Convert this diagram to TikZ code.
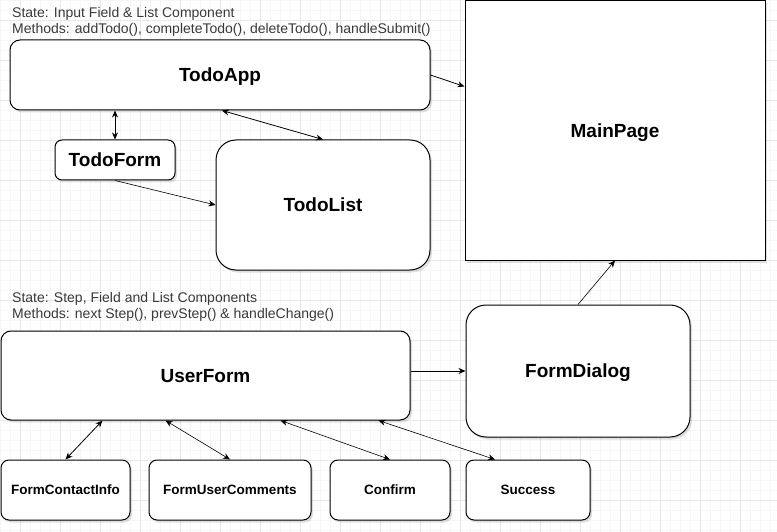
\documentclass[tikz,border=0pt]{standalone}
\usepackage{fontspec}
\setmainfont{Liberation Sans}
\usetikzlibrary{arrows.meta,shadows}
\definecolor{gridminor}{HTML}{F6F6F6}
\definecolor{gridmajor}{HTML}{E8E8E8}
\definecolor{notegray}{HTML}{3A3A3A}
\begin{document}
\begin{tikzpicture}[x=1pt,y=-1pt,
		box/.style={draw=black,line width=1pt,fill=white,rounded corners=#1,
			inner sep=0pt,font=\fontsize{19}{22}\selectfont\bfseries,
			text height=13.7pt,text depth=0pt,
			drop shadow={shadow xshift=2pt,shadow yshift=-2.5pt,opacity=0.25}},
		box/.default=10pt,
		smallbox/.style={box=8pt,font=\fontsize{13.5}{16}\selectfont\bfseries,
			text height=9.7pt},
		note/.style={anchor=north west,align=left,inner sep=0pt,text=notegray,
			font=\fontsize{14}{16}\selectfont},
		link/.style={line width=0.8pt,-{Stealth[length=7pt,width=6pt]}},
		biglink/.style={line width=0.8pt,{Stealth[length=7pt,width=6pt]}-{Stealth[length=7pt,width=6pt]}}]
	\useasboundingbox (0,0) rectangle (777,532);
	\fill[white] (0,0) rectangle (777,532);
	
	% Grid
	\foreach \x in {0,10,...,770} {
		\draw[gridminor,line width=0.6pt] (\x,0) -- (\x,532);
	}
	\foreach \y in {0,10,...,530} {
		\draw[gridminor,line width=0.6pt] (0,\y) -- (777,\y);
	}
	\foreach \x in {20,60,...,760} {
		\draw[gridmajor,line width=0.6pt] (\x,0) -- (\x,532);
	}
	\foreach \y in {20,60,...,520} {
		\draw[gridmajor,line width=0.6pt] (0,\y) -- (777,\y);
	}
	
	% Shapes
	\node[box,minimum width=300pt,minimum height=259pt,rounded corners=0pt] (mainpage) at (615,130.5) {MainPage};
	\node[box,minimum width=420pt,minimum height=70pt] (todoapp) at (220,75) {TodoApp};
	\node[box=7pt,minimum width=120pt,minimum height=40pt] (todoform) at (115,160) {TodoForm};
	\node[box=20pt,minimum width=214pt,minimum height=130pt] (todolist) at (323,205) {TodoList};
	
	\node[box,minimum width=409pt,minimum height=89pt] (userform) at (205.5,375.5) {UserForm};
	\node[box=20pt,minimum width=224pt,minimum height=132pt] (formdialog) at (578,371) {FormDialog};
	\node[smallbox,minimum width=129pt,minimum height=60pt] (contactinfo) at (65.5,490) {FormContactInfo};
	\node[smallbox,minimum width=162pt,minimum height=60pt] (usercomments) at (230,490) {FormUserComments};
	\node[smallbox,minimum width=120pt,minimum height=60pt] (confirm) at (390,490) {Confirm};
	\node[smallbox,minimum width=124pt,minimum height=60pt] (success) at (528,490) {Success};
	
	% Labels
	\node[note] (todonote) at (12,7.5) {State: Input Field \& List Component\\Methods: addTodo(), completeTodo(), deleteTodo(), handleSubmit()};
	\node[note] (usernote) at (12,292.5) {State: Step, Field and List Components\\Methods: next Step(), prevStep() \& handleChange()};
	
	% Connectors
	\draw[link] (todoapp.east) -- ([yshift=44pt]mainpage.west);
	\draw[biglink] (todoapp.south -| todoform.north) -- (todoform.north);
	\draw[biglink] ([xshift=2pt]todoapp.south) -- (todolist.north);
	\draw[link,line width=0.6pt] (todoform.south) -- (todolist.west);
	\draw[link,line width=0.6pt] (formdialog.north) -- (mainpage.south);
	\draw[link] (userform.east |- formdialog.west) -- (formdialog.west);
	\draw[biglink] ([xshift=-103pt]userform.south) -- (contactinfo.north);
	\draw[biglink,line width=0.6pt] ([xshift=-40pt]userform.south) -- (usercomments.north);
	\draw[biglink,line width=0.6pt] ([xshift=75pt]userform.south) -- (confirm.north);
	\draw[biglink,line width=0.6pt] ([xshift=173pt]userform.south) -- ([xshift=-33pt]success.north);
\end{tikzpicture}
\end{document}
